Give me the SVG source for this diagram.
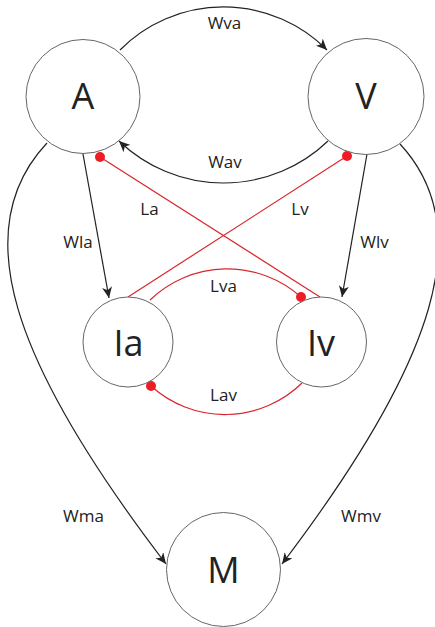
<svg xmlns="http://www.w3.org/2000/svg" width="435" height="627" viewBox="0 0 435 627">
<style>
.node{fill:#fff;stroke:#666;stroke-width:1}
.nl{font-family:"Open Sans","Liberation Sans",sans-serif;font-size:36px;fill:#222;text-anchor:middle}
.el{font-family:"Open Sans","Liberation Sans",sans-serif;font-size:17px;fill:#222;text-anchor:middle}
.w{fill:none;stroke:#222;stroke-width:1.2}
.l{fill:none;stroke:#d9262c;stroke-width:1.2}
.dot{fill:#ee1c24}
</style>
<defs>
<marker id="arr" markerUnits="userSpaceOnUse" markerWidth="12" markerHeight="10" refX="11" refY="5" orient="auto">
<path d="M0,0 L11,5 L0,10 L3,5 z" fill="#222"/>
</marker>
</defs>
<rect width="435" height="627" fill="#fff"/>
<g id="connectors">
<path class="w" d="M120,50 A146,146 0 0 1 327,50" marker-end="url(#arr)"/>
<path class="w" d="M328,141 A151,151 0 0 1 119,141" marker-end="url(#arr)"/>
<path class="w" d="M83,154 L109,298" marker-end="url(#arr)"/>
<path class="w" d="M367,154 L342,297" marker-end="url(#arr)"/>
<path class="w" d="M47,143 C-33,228 10,360 166,564" marker-end="url(#arr)"/>
<path class="w" d="M400,144 C478,228 437,360 282,564" marker-end="url(#arr)"/>
<path class="l" d="M100,157 L320,297"/>
<path class="l" d="M347,156 L128,297"/>
<path class="l" d="M150,300 A111,111 0 0 1 301,297"/>
<path class="l" d="M302,383 A110,110 0 0 1 151,386"/>
<circle class="dot" cx="100" cy="157" r="5"/>
<circle class="dot" cx="347" cy="156" r="5"/>
<circle class="dot" cx="301" cy="297" r="5"/>
<circle class="dot" cx="151" cy="386" r="5"/>
<text class="el" x="224.5" y="29">Wva</text>
<text class="el" x="225" y="168">Wav</text>
<text class="el" x="149.5" y="215">La</text>
<text class="el" x="300" y="215">Lv</text>
<text class="el" x="78" y="248">Wla</text>
<text class="el" x="374.5" y="248">Wlv</text>
<text class="el" x="223.5" y="292">Lva</text>
<text class="el" x="223.5" y="401">Lav</text>
<text class="el" x="83.5" y="522">Wma</text>
<text class="el" x="361" y="522">Wmv</text>
</g>
<g id="A"><circle class="node" cx="83" cy="96.5" r="57"/><text class="nl" x="83" y="109">A</text></g>
<g id="V"><circle class="node" cx="366" cy="96.5" r="58"/><text class="nl" x="366" y="109">V</text></g>
<g id="Ia"><circle class="node" cx="128" cy="342" r="45"/><text class="nl" x="128.5" y="356">Ia</text></g>
<g id="Iv"><circle class="node" cx="321.5" cy="342" r="45"/><text class="nl" x="321" y="356">Iv</text></g>
<g id="M"><circle class="node" cx="223.5" cy="569.5" r="57"/><text class="nl" x="223.5" y="583">M</text></g>
</svg>
